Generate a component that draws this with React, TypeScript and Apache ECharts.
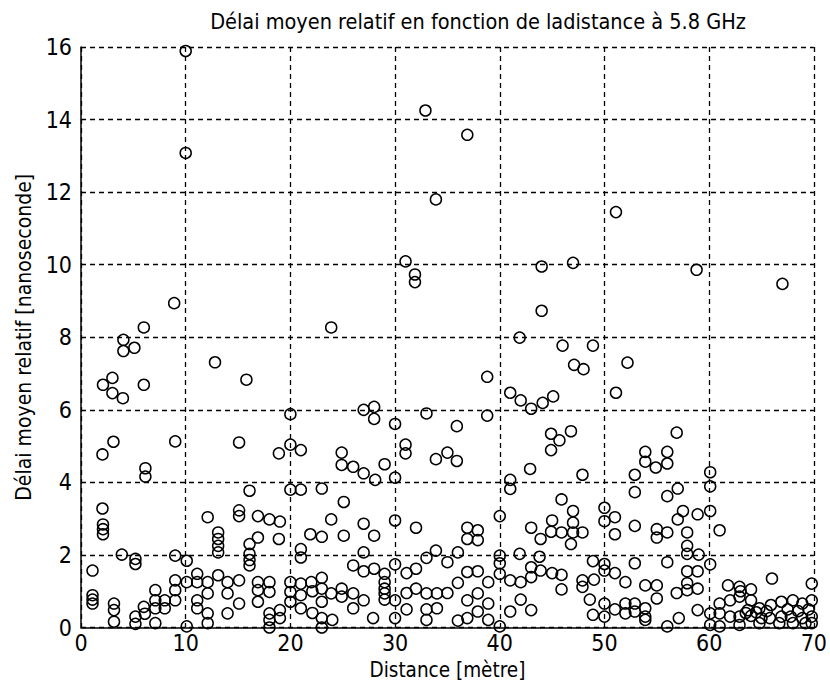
import React, { useEffect, useRef } from "react";
import * as echarts from "echarts";

const titleText = "Délai moyen relatif en fonction de ladistance à 5.8 GHz";
const xName = "Distance [mètre]";
const yName = "Délai moyen relatif [nanoseconde]";
const xTicks = { min: 0, max: 70, interval: 10 };
const yTicks = { min: 0, max: 16, interval: 2 };

// [distance (m), delay (ns)]
const pts0to10: number[][] = [
  [2.1, 6.69], [3.0, 6.88], [3.0, 6.46], [4.0, 6.32], [4.05, 7.93], [4.05, 7.62], [5.1, 7.71], [6.0, 8.27], [6.0, 6.69], [8.9, 8.94], [10.0, 15.89], [10.0, 13.08],
  [2.05, 4.77], [3.1, 5.12], [6.15, 4.39], [6.15, 4.16], [9.0, 5.13], [2.05, 3.28], [2.1, 2.84], [2.1, 2.71], [2.1, 2.57], [3.9, 2.01], [5.2, 1.89], [5.2, 1.75],
  [1.1, 1.57], [1.1, 0.89], [1.1, 0.77], [1.1, 0.66], [3.15, 0.66], [3.15, 0.48], [3.15, 0.16], [5.2, 0.3], [5.2, 0.1], [6.0, 0.57], [7.1, 1.03], [7.1, 0.75],
  [7.1, 0.53], [7.1, 0.12], [8.0, 0.75], [8.0, 0.53], [9.0, 1.98], [9.0, 1.3], [9.0, 1.03], [9.0, 0.75], [10.1, 1.84], [10.1, 1.25], [10.1, 0.03], [6.1, 0.38],
];

const pts10to20: number[][] = [
  [12.8, 7.31], [15.8, 6.83], [15.1, 5.1], [16.1, 3.77], [12.1, 3.04], [15.1, 3.23], [15.1, 3.07], [16.9, 3.07], [18.0, 2.98], [19.0, 2.92],
  [13.1, 2.62], [13.1, 2.44], [13.1, 2.25], [13.1, 2.07], [16.9, 2.48], [16.1, 2.3], [16.1, 2.03], [16.1, 1.86], [16.1, 1.71], [18.9, 2.44],
  [11.1, 1.48], [11.1, 1.25], [11.1, 0.75], [11.1, 0.53], [12.1, 1.25], [12.1, 0.94], [12.1, 0.39], [12.1, 0.12], [13.1, 1.44], [14.0, 1.25],
  [14.0, 0.94], [14.0, 0.39], [15.1, 1.3], [15.1, 0.66], [16.9, 1.25], [16.9, 1.03], [16.9, 0.71], [18.0, 1.25], [18.0, 0.98], [18.0, 0.39],
  [18.0, 0.21], [18.0, 0.0], [19.0, 0.48], [19.0, 0.26], [18.9, 4.8],
];

const pts20to30: number[][] = [
  [20.0, 5.88], [20.0, 5.04], [21.0, 4.89], [20.0, 3.8], [21.0, 3.8], [21.9, 2.57], [21.0, 2.16], [21.0, 1.93], [20.0, 1.25], [20.0, 0.98],
  [20.0, 0.71], [21.0, 1.21], [21.0, 0.89], [21.0, 0.53], [22.0, 1.25], [22.1, 1.0], [22.1, 0.4],
  [23.9, 8.27], [27.0, 6.0], [28.0, 6.08], [28.0, 5.75], [30.0, 5.61], [24.9, 4.82], [24.9, 4.48], [26.0, 4.43], [27.0, 4.25], [28.1, 4.07],
  [29.0, 4.5], [30.0, 4.13], [23.0, 3.83], [25.1, 3.46], [23.9, 2.98], [27.0, 2.86], [30.0, 2.95], [23.0, 2.5], [25.1, 2.53], [28.0, 2.53],
  [27.0, 2.07], [26.0, 1.71], [27.0, 1.55], [28.0, 1.62], [29.0, 1.48], [30.0, 1.74], [29.0, 1.25], [29.0, 1.07], [29.0, 0.94], [29.0, 0.77],
  [23.0, 1.37], [23.0, 1.07], [23.0, 0.71], [23.9, 0.94], [24.9, 1.07], [24.9, 0.85], [26.0, 0.94], [26.0, 0.53], [27.0, 0.75], [27.9, 0.26],
  [30.0, 0.75], [30.0, 0.26], [23.0, 0.26], [23.0, 0.0], [24.0, 0.21],
];

const pts30to40: number[][] = [
  [31.0, 10.09], [31.9, 9.73], [31.9, 9.52], [32.9, 14.25], [33.9, 11.8], [36.9, 13.58], [33.0, 5.9], [31.0, 5.04], [31.0, 4.8], [33.9, 4.64],
  [32.0, 2.75], [33.9, 2.12], [33.0, 1.92], [31.1, 1.5], [32.0, 1.62], [31.1, 0.95], [31.1, 0.5], [32.0, 1.07], [33.0, 0.94], [33.0, 0.5],
  [33.0, 0.21], [34.0, 0.94], [34.0, 0.53],
  [38.8, 6.91], [38.8, 5.84], [35.9, 5.55], [35.0, 4.82], [35.9, 4.59], [36.9, 2.75], [37.9, 2.68], [36.9, 2.44], [37.9, 2.41], [35.0, 1.8],
  [36.0, 2.07], [36.9, 1.53], [37.9, 1.55], [38.9, 1.25], [36.0, 1.23], [35.0, 0.95], [36.9, 0.75], [37.9, 0.94], [38.9, 0.66], [37.9, 0.44],
  [36.0, 0.19], [36.9, 0.26], [38.9, 0.21], [40.0, 3.07], [40.0, 1.98], [40.0, 1.77], [40.0, 1.48], [40.0, 0.03],
];

const pts40to50: number[][] = [
  [41.9, 7.99], [44.0, 9.95], [47.0, 10.05], [44.0, 8.73], [46.0, 7.77], [48.9, 7.77], [47.1, 7.24], [48.0, 7.12], [41.0, 6.47], [42.0, 6.26],
  [43.0, 6.03], [44.1, 6.19], [45.1, 6.37], [44.9, 5.34], [45.7, 5.16], [44.9, 4.89], [46.8, 5.41], [42.9, 4.37], [41.0, 4.07], [41.0, 3.82],
  [45.9, 3.53], [43.0, 2.75], [43.9, 2.44], [45.0, 2.95], [44.9, 2.64], [45.9, 2.62], [41.9, 2.03], [43.8, 1.95], [41.0, 1.3], [42.0, 1.25],
  [43.0, 1.66], [43.0, 1.39], [43.9, 1.57], [45.0, 1.5], [45.9, 1.45], [42.0, 0.77], [41.0, 0.44], [43.0, 0.48], [45.9, 1.05],
  [47.9, 4.21], [47.0, 3.21], [47.0, 2.89], [47.0, 2.62], [47.9, 2.62], [46.8, 2.3], [48.9, 1.83], [47.9, 1.3], [47.9, 1.12], [49.0, 1.32],
  [48.6, 0.77], [48.9, 0.35],
];

const pts50to60: number[][] = [
  [51.1, 11.45], [52.2, 7.3], [51.1, 6.47], [58.8, 9.86], [56.9, 5.37], [53.9, 4.84], [53.9, 4.57], [56.0, 4.84], [56.0, 4.52], [54.9, 4.41],
  [52.9, 4.21], [52.9, 3.73], [56.0, 3.62], [57.0, 3.83], [50.0, 3.3], [50.0, 2.93], [51.0, 3.04], [51.0, 2.57], [52.9, 2.8], [55.0, 2.71],
  [55.0, 2.48], [56.0, 2.62], [57.5, 3.21], [57.0, 2.98], [57.9, 2.62], [57.9, 2.25], [57.9, 2.03], [50.0, 1.75], [50.0, 1.57], [51.0, 1.5],
  [52.0, 1.25], [52.9, 1.77], [56.0, 1.8], [57.9, 1.55], [53.9, 1.16], [55.0, 1.16], [55.0, 0.8], [56.9, 0.95], [57.9, 1.22], [57.9, 1.03],
  [50.0, 0.66], [51.0, 0.5], [52.0, 0.66], [52.9, 0.66], [53.9, 0.53], [50.0, 0.3], [52.0, 0.39], [52.9, 0.44], [53.9, 0.3], [53.9, 0.21],
  [56.0, 0.03], [57.1, 0.26], [58.9, 3.12], [59.0, 2.01], [58.9, 1.55], [58.9, 1.07], [58.9, 0.48],
];

const pts60to70: number[][] = [
  [67.0, 9.47], [60.1, 4.28], [60.1, 3.89], [60.1, 3.21], [61.0, 2.68], [60.1, 1.74], [66.0, 1.35], [69.8, 1.21], [61.8, 1.16], [62.9, 1.12],
  [62.9, 0.85], [62.0, 0.75], [61.0, 0.66], [64.0, 0.75], [63.7, 0.48], [64.8, 0.53], [65.9, 0.62], [66.9, 0.71], [68.0, 0.75], [68.9, 0.66],
  [69.8, 0.75], [61.0, 0.39], [62.0, 0.3], [62.9, 0.3], [64.0, 0.32], [65.0, 0.26], [65.8, 0.26], [66.9, 0.3], [67.8, 0.3], [68.9, 0.26],
  [69.8, 0.3], [60.1, 0.07], [61.0, 0.03], [62.9, 0.07], [64.8, 0.12], [66.7, 0.12], [68.0, 0.12], [69.2, 0.12], [69.8, 0.12], [60.1, 0.39],
  [63.0, 1.0], [64.0, 1.05], [63.5, 0.4], [64.5, 0.42], [65.5, 0.45], [67.5, 0.5], [68.5, 0.45], [69.5, 0.5],
];

const FONT = "'DejaVu Sans Condensed', 'DejaVu Sans', sans-serif";

export default function App() {
  const ref = useRef<HTMLDivElement>(null);
  useEffect(() => {
    if (!ref.current) return;
    const chart = echarts.init(ref.current, null, { renderer: "svg" });
    const data = [
      ...pts0to10, ...pts10to20, ...pts20to30, ...pts30to40,
      ...pts40to50, ...pts50to60, ...pts60to70,
    ];
    const dashed = { show: true, lineStyle: { color: "#000", type: [5, 4] as any, width: 1.3 } };
    chart.setOption({
      animation: false,
      backgroundColor: "#fff",
      title: {
        text: titleText,
        left: 473,
        top: 5,
        textAlign: "center",
        textStyle: { fontFamily: FONT, fontSize: 21.5, fontWeight: "normal", color: "#000" },
      },
      grid: { left: 81, right: 11.5, top: 47, bottom: 64.5 },
      xAxis: {
        type: "value",
        min: xTicks.min,
        max: xTicks.max,
        interval: xTicks.interval,
        name: xName,
        nameLocation: "middle",
        nameGap: 30,
        nameTextStyle: { fontFamily: FONT, fontSize: 20.5, color: "#000" },
        axisLine: { show: true, lineStyle: { color: "#000", width: 1.5 } },
        axisTick: { show: false },
        axisLabel: { fontFamily: FONT, fontSize: 23, color: "#000", margin: 4 },
        splitLine: dashed,
      },
      yAxis: {
        type: "value",
        min: yTicks.min,
        max: yTicks.max,
        interval: yTicks.interval,
        name: yName,
        nameLocation: "middle",
        nameGap: 44,
        nameTextStyle: { fontFamily: FONT, fontSize: 21, color: "#000" },
        axisLine: { show: true, lineStyle: { color: "#000", width: 1.5 } },
        axisTick: { show: false },
        axisLabel: { fontFamily: FONT, fontSize: 23, color: "#000", margin: 9 },
        splitLine: dashed,
      },
      series: [
        {
          type: "scatter",
          data,
          symbol: "circle",
          symbolSize: 11,
          itemStyle: { color: "rgba(0,0,0,0)", borderColor: "#000", borderWidth: 1.5, opacity: 1 },
          emphasis: { disabled: true },
        },
      ],
    });
    return () => chart.dispose();
  }, []);
  return (
    <div
      ref={ref}
      style={{ position: "absolute", left: 0, top: 0, width: 830, height: 692, background: "#fff" }}
    />
  );
}
